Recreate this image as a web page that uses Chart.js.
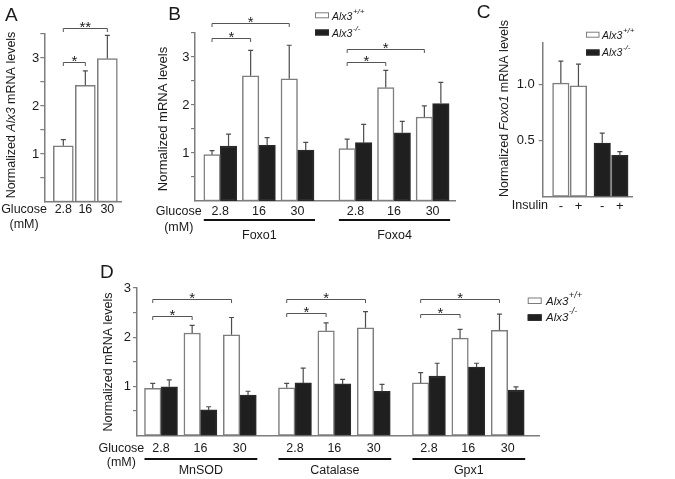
<!DOCTYPE html>
<html><head><meta charset="utf-8">
<script src="https://cdn.jsdelivr.net/npm/chart.js@4.4.1/dist/chart.umd.min.js"></script>
<style>
html,body{margin:0;padding:0;background:#fff;}
#wrap{position:relative;width:675px;height:479px;overflow:hidden;background:#fff;}
canvas{position:absolute;left:0;top:0;}
</style></head><body><div id="wrap">
<canvas id="cA" width="675" height="479"></canvas>
<canvas id="cB" width="675" height="479"></canvas>
<canvas id="cC" width="675" height="479"></canvas>
<canvas id="cD" width="675" height="479"></canvas>
</div>
<script>
// ---------------- DATA ----------------
const glucoseLabels = ['2.8', '16', '30'];
const genotypes = ['Alx3', 'Alx3'];
const genotypeSup = ['+/+', '-/-'];

// Panel A: Alx3 mRNA vs glucose
const aValues = [1.17, 2.43, 2.99];
const aErrors = [0.13, 0.30, 0.48];
const aComparisons = [
  { from: 0, to: 1, level: 2.92, label: '*' },
  { from: 0, to: 2, level: 3.63, label: '**' }
];

// Panel B: Foxo1 / Foxo4
const bGenes = ['Foxo1', 'Foxo4'];
const bWT    = [0.965, 2.61, 2.545, 1.09, 2.365, 1.75];
const bWTErr = [0.085, 0.53, 0.70, 0.20, 0.355, 0.23];
const bKO    = [1.145, 1.16, 1.06, 1.215, 1.42, 2.03];
const bKOErr = [0.25, 0.16, 0.16, 0.38, 0.24, 0.44];
const bComparisons = [
  { from: 0, to: 1, level: 3.39, label: '*' },
  { from: 0, to: 2, level: 3.70, label: '*' },
  { from: 3, to: 4, level: 2.89, label: '*' },
  { from: 3, to: 5, level: 3.17, label: '*' }
];

// Panel C: Foxo1 with/without insulin
const insulinLabels = ['-', '+'];
const cWT    = [1.01, 0.985];
const cWTErr = [0.195, 0.195];
const cKO    = [0.476, 0.366];
const cKOErr = [0.089, 0.034];

// Panel D: MnSOD / Catalase / Gpx1
const dGenes = ['MnSOD', 'Catalase', 'Gpx1'];
const dWT    = [0.96, 2.085, 2.05, 0.97, 2.13, 2.19, 1.07, 1.98, 2.14];
const dWTErr = [0.10, 0.155, 0.35, 0.09, 0.16, 0.33, 0.21, 0.18, 0.33];
const dKO    = [0.99, 0.52, 0.82, 1.07, 1.05, 0.90, 1.21, 1.39, 0.925];
const dKOErr = [0.14, 0.065, 0.08, 0.30, 0.09, 0.14, 0.26, 0.08, 0.065];
const dComparisons = [
  { from: 0, to: 1, level: 2.43, label: '*' },
  { from: 0, to: 2, level: 2.77, label: '*' },
  { from: 3, to: 4, level: 2.50, label: '*' },
  { from: 3, to: 5, level: 2.78, label: '*' },
  { from: 6, to: 7, level: 2.47, label: '*' },
  { from: 6, to: 8, level: 2.77, label: '*' }
];

// ---------------- STYLE / LAYOUT ----------------
const FONT = '"Liberation Sans", Arial, Helvetica, sans-serif';
const INK = '#1a1a1a';
const LINE = '#7d7d7d';
const ERR = '#4d4d4d';
const WHITE_FILL = '#ffffff', WHITE_EDGE = '#7d7d7d';
const BLACK_FILL = '#1f1f1f', BLACK_EDGE = '#2a2a2a';

function slots(groupCount, perGroup, stride) {
  const out = [];
  for (let g = 0; g < groupCount; g++) for (let k = 0; k < perGroup; k++) out.push(g * stride + k);
  return out;
}
function repeatLabels(labels, n) { const o = []; for (let i = 0; i < n; i++) o.push(...labels); return o; }
function range(a, b, s) { const o = []; for (let v = a; v <= b + 1e-9; v += s) o.push(+v.toFixed(3)); return o; }

function f(size, italic) { return (italic ? 'italic ' : '') + size + 'px ' + FONT; }

function drawErrors(chart) {
  const ctx = chart.ctx, ys = chart.scales.y;
  chart.data.datasets.forEach((ds, di) => {
    const meta = chart.getDatasetMeta(di);
    meta.data.forEach((el, j) => {
      const v = ds.data[j].y, e = ds.errors[j];
      const top = ys.getPixelForValue(v + e);
      ctx.save();
      ctx.strokeStyle = ERR; ctx.lineWidth = 1.2;
      ctx.beginPath();
      ctx.moveTo(el.x, el.y); ctx.lineTo(el.x, top);
      ctx.moveTo(el.x - 2.5, top); ctx.lineTo(el.x + 2.5, top);
      ctx.stroke();
      ctx.restore();
    });
  });
}

function drawBrackets(chart, list) {
  const ctx = chart.ctx, ys = chart.scales.y;
  const ref = chart.getDatasetMeta(0).data;
  ctx.save();
  ctx.strokeStyle = '#555'; ctx.lineWidth = 1;
  list.forEach(b => {
    const x1 = ref[b.from].x, x2 = ref[b.to].x, y = Math.round(ys.getPixelForValue(b.level)) + 0.5;
    ctx.beginPath();
    ctx.moveTo(x1, y + 3.5); ctx.lineTo(x1, y); ctx.lineTo(x2, y); ctx.lineTo(x2, y + 3.5);
    ctx.stroke();
    ctx.fillStyle = INK; ctx.font = f(15, false);
    ctx.textAlign = 'center'; ctx.textBaseline = 'alphabetic';
    ctx.fillText(b.label, (x1 + x2) / 2, y + 3);
  });
  ctx.restore();
}

function drawText(ctx, t, x, y, size, align, italic) {
  ctx.save();
  ctx.fillStyle = INK; ctx.font = f(size, italic);
  ctx.textAlign = align || 'left'; ctx.textBaseline = 'middle';
  ctx.fillText(t, x, y);
  ctx.restore();
}

function drawLetter(ctx, t, x, y) {
  ctx.save(); ctx.fillStyle = INK; ctx.font = f(19, false);
  ctx.textAlign = 'left'; ctx.textBaseline = 'alphabetic';
  ctx.fillText(t, x, y); ctx.restore();
}

function drawRichVertical(ctx, segs, cx, cy, size) {
  ctx.save();
  ctx.translate(cx, cy); ctx.rotate(-Math.PI / 2);
  let total = 0;
  const ws = segs.map(s => { ctx.font = f(size, s[1]); const w = ctx.measureText(s[0]).width; total += w; return w; });
  let x = -total / 2;
  ctx.fillStyle = INK; ctx.textBaseline = 'middle'; ctx.textAlign = 'left';
  segs.forEach((s, i) => { ctx.font = f(size, s[1]); ctx.fillText(s[0], x, 0); x += ws[i]; });
  ctx.restore();
}

function drawLegend(ctx, L) {
  ctx.save();
  genotypes.forEach((g, i) => {
    const by = L.boxY[i];
    ctx.fillStyle = i === 0 ? WHITE_FILL : BLACK_FILL;
    ctx.strokeStyle = i === 0 ? WHITE_EDGE : BLACK_EDGE;
    ctx.lineWidth = 1;
    ctx.fillRect(L.boxX, by, L.boxW, L.boxH);
    ctx.strokeRect(L.boxX + 0.5, by + 0.5, L.boxW - 1, L.boxH - 1);
    ctx.fillStyle = INK; ctx.textAlign = 'left'; ctx.textBaseline = 'alphabetic';
    ctx.font = f(L.size, true);
    ctx.fillText(g, L.textX, L.base[i]);
    const w = ctx.measureText(g).width;
    ctx.font = f(L.supSize, true);
    ctx.fillText(genotypeSup[i], L.textX + w + 0.5, L.base[i] - L.supRise);
  });
  ctx.restore();
}

function drawGroups(chart, genes, perGroup, lineY, nameY) {
  const ctx = chart.ctx;
  const w = chart.getDatasetMeta(0).data, k = chart.getDatasetMeta(1).data;
  genes.forEach((g, gi) => {
    const a = w[gi * perGroup], b = k[gi * perGroup + perGroup - 1];
    const x1 = a.x - a.width / 2, x2 = b.x + b.width / 2 + 1;
    ctx.save();
    ctx.strokeStyle = '#111'; ctx.lineWidth = 1.8;
    ctx.beginPath(); ctx.moveTo(x1, lineY); ctx.lineTo(x2, lineY); ctx.stroke();
    ctx.restore();
    drawText(ctx, g, (x1 + x2) / 2, nameY, 12.5, 'center');
  });
}

function drawGlucose(ctx, right, y1, y2, size) {
  ctx.save(); ctx.font = f(size, false);
  const w = ctx.measureText('Glucose').width; ctx.restore();
  drawText(ctx, 'Glucose', right, y1, size, 'right');
  drawText(ctx, '(mM)', right - w / 2, y2, size, 'center');
}

function buildChart(id, p) {
  const W = 40, H = 20, a = p.area;
  return new Chart(document.getElementById(id), {
    type: 'bar',
    data: {
      datasets: p.series.map(s => ({
        data: s.x.map((xv, i) => ({ x: xv, y: s.values[i] })),
        errors: s.errors,
        backgroundColor: s.fill,
        borderColor: s.edge,
        borderWidth: 1.5,
        borderSkipped: false,
        barThickness: p.barThickness,
        grouped: p.grouped
      }))
    },
    options: {
      responsive: false, animation: false, devicePixelRatio: 1, events: [],
      layout: { padding: { left: a.l - W, right: 675 - a.r, top: a.t, bottom: 479 - a.b - H } },
      plugins: { legend: { display: false }, tooltip: { enabled: false }, title: { display: false } },
      scales: {
        x: {
          type: 'linear', min: p.xMin, max: p.xMax, offset: false,
          afterFit: s => { s.height = H; },
          afterBuildTicks: s => { s.ticks = p.tickPos.map(v => ({ value: v })); },
          grid: { display: false, drawTicks: false, offset: false },
          border: { display: true, color: LINE, width: 1.5 },
          ticks: { autoSkip: false, maxRotation: 0, minRotation: 0, padding: p.xPad,
                   font: { family: FONT, size: p.tickFont }, color: INK,
                   callback: (v, i) => p.tickLabels[i] }
        },
        y: {
          type: 'linear', min: 0, max: p.yMax,
          afterFit: s => { s.width = W; },
          afterBuildTicks: s => { s.ticks = p.yTicks.map(v => ({ value: v })); },
          grid: { display: true, drawOnChartArea: false, drawTicks: true, tickLength: 4, color: LINE, lineWidth: 1.2 },
          border: { display: true, color: LINE, width: 1.5 },
          ticks: { padding: p.yPad, font: { family: FONT, size: 13 }, color: INK, callback: p.yFmt }
        }
      }
    },
    plugins: [{
      id: 'extras_' + id,
      afterDatasetsDraw: c => drawErrors(c),
      afterDraw: c => p.draw(c)
    }]
  });
}

const intLabel = v => (Math.abs(v - Math.round(v)) < 1e-6 && v > 0) ? String(Math.round(v)) : '';

// ---------------- PANEL A ----------------
const aSlots = slots(1, glucoseLabels.length, 3);
buildChart('cA', {
  area: { l: 44.3, t: 34, r: 121, b: 202 },
  xMin: -0.864, xMax: 2.62, yMax: 3.5, yTicks: range(0.5, 3.5, 0.5), yFmt: intLabel,
  tickPos: aSlots, tickLabels: glucoseLabels, tickFont: 12.5, xPad: 0.5, yPad: 1,
  barThickness: 20, grouped: true,
  series: [{ x: aSlots, values: aValues, errors: aErrors, fill: WHITE_FILL, edge: WHITE_EDGE }],
  draw: c => {
    const ctx = c.ctx;
    drawLetter(ctx, 'A', 5, 20.7);
    drawRichVertical(ctx, [['Normalized ', false], ['Alx3', true], [' mRNA levels', false]], 11.2, 115, 12.5);
    drawBrackets(c, aComparisons);
    drawGlucose(ctx, 47, 210, 225, 12.5);
  }
});

// ---------------- PANEL B ----------------
const bSlots = slots(bGenes.length, glucoseLabels.length, 3.5);
buildChart('cB', {
  area: { l: 195, t: 33, r: 455, b: 201 },
  xMin: -0.655, xMax: 6.08, yMax: 3.5, yTicks: range(0.5, 3.5, 0.5), yFmt: intLabel,
  tickPos: bSlots, tickLabels: repeatLabels(glucoseLabels, bGenes.length), tickFont: 12.5, xPad: 3.5, yPad: 1.5,
  barThickness: 16.5, grouped: true,
  series: [
    { x: bSlots, values: bWT, errors: bWTErr, fill: WHITE_FILL, edge: WHITE_EDGE },
    { x: bSlots, values: bKO, errors: bKOErr, fill: BLACK_FILL, edge: BLACK_EDGE }
  ],
  draw: c => {
    const ctx = c.ctx;
    drawLetter(ctx, 'B', 168.3, 20);
    drawRichVertical(ctx, [['Normalized mRNA levels', false]], 163.3, 119, 13);
    drawBrackets(c, bComparisons);
    drawLegend(ctx, { boxX: 315, boxY: [12.3, 29.5], boxW: 14, boxH: 6, textX: 332, base: [19.8, 37], size: 10.5, supSize: 8, supRise: 6 });
    drawGlucose(ctx, 201.7, 212, 227.7, 12.5);
    drawGroups(c, bGenes, glucoseLabels.length, 220, 235.7);
  }
});

// ---------------- PANEL C ----------------
const cSlotsWT = [0, 1], cSlotsKO = [2.35, 3.35];
buildChart('cC', {
  area: { l: 542.7, t: 42.7, r: 632.7, b: 196.5 },
  xMin: -1.03, xMax: 4.08, yMax: 1.37, yTicks: [0.5, 1.0], yFmt: v => v.toFixed(1),
  tickPos: [...cSlotsWT, ...cSlotsKO], tickLabels: repeatLabels(insulinLabels, 2), tickFont: 13, xPad: 1.7, yPad: 4,
  barThickness: 16.5, grouped: false,
  series: [
    { x: cSlotsWT, values: cWT, errors: cWTErr, fill: WHITE_FILL, edge: WHITE_EDGE },
    { x: cSlotsKO, values: cKO, errors: cKOErr, fill: BLACK_FILL, edge: BLACK_EDGE }
  ],
  draw: c => {
    const ctx = c.ctx;
    drawLetter(ctx, 'C', 476.7, 18.3);
    drawRichVertical(ctx, [['Normalized ', false], ['Foxo1', true], [' mRNA levels', false]], 505, 108.5, 12.5);
    drawLegend(ctx, { boxX: 586, boxY: [31.7, 49.5], boxW: 13.5, boxH: 6, textX: 602, base: [38.6, 56], size: 10.5, supSize: 8, supRise: 6 });
    drawText(ctx, 'Insulin', 548, 205.7, 12.5, 'right');
  }
});

// ---------------- PANEL D ----------------
const dSlots = slots(dGenes.length, glucoseLabels.length, 3.4);
buildChart('cD', {
  area: { l: 137, t: 288, r: 539, b: 435.5 },
  xMin: -0.609, xMax: 9.594, yMax: 3, yTicks: range(0.5, 3, 0.5), yFmt: intLabel,
  tickPos: dSlots, tickLabels: repeatLabels(glucoseLabels, dGenes.length), tickFont: 12.5, xPad: 6, yPad: 2,
  barThickness: 16.5, grouped: true,
  series: [
    { x: dSlots, values: dWT, errors: dWTErr, fill: WHITE_FILL, edge: WHITE_EDGE },
    { x: dSlots, values: dKO, errors: dKOErr, fill: BLACK_FILL, edge: BLACK_EDGE }
  ],
  draw: c => {
    const ctx = c.ctx;
    drawLetter(ctx, 'D', 100, 278.3);
    drawRichVertical(ctx, [['Normalized mRNA levels', false]], 108.3, 362, 12.5);
    drawBrackets(c, dComparisons);
    drawLegend(ctx, { boxX: 527.7, boxY: [297.5, 314.3], boxW: 14, boxH: 6.5, textX: 546, base: [305.3, 321], size: 11.5, supSize: 9, supRise: 7 });
    drawGlucose(ctx, 144.3, 449, 462.3, 12.5);
    drawGroups(c, dGenes, glucoseLabels.length, 459, 471);
  }
});
</script>
</body></html>
